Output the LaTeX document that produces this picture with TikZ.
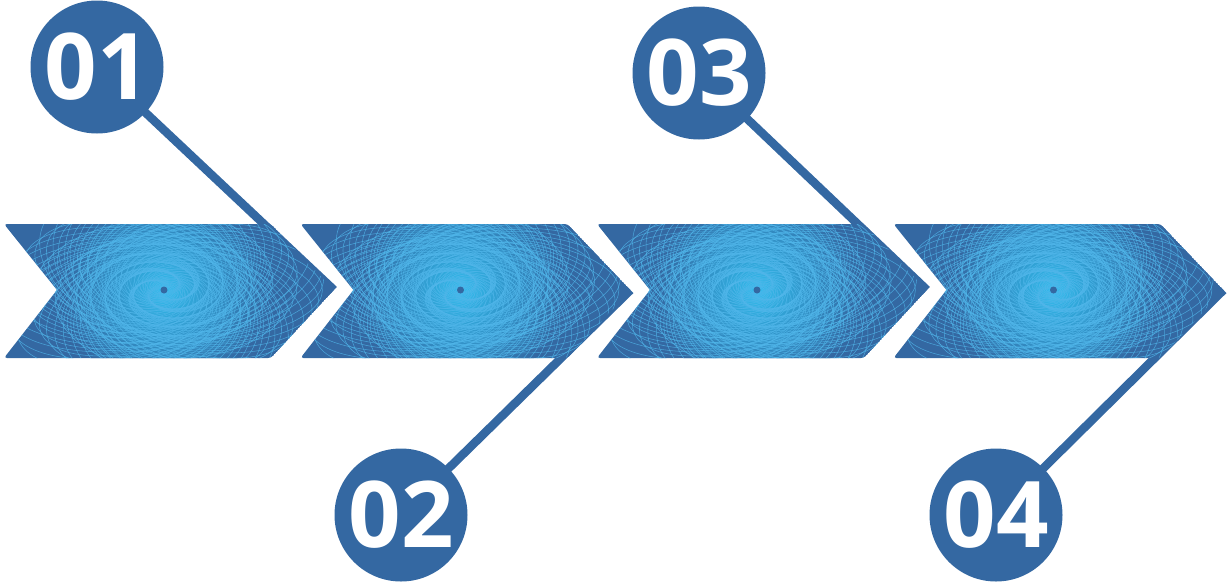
\documentclass[tikz,border=0pt]{standalone}
\usepackage{fontspec}
\newfontfamily\numfont{Open Sans}
\definecolor{cblue}{RGB}{52,104,162}
\definecolor{lblue}{RGB}{80,182,234}
\definecolor{glow}{RGB}{48,190,238}
\tikzset{
  conn/.style={draw=cblue, line width=8.5pt},
  numcirc/.style={circle, fill=cblue, minimum size=133pt, inner sep=0pt,
     text=white, font=\numfont\bfseries\fontsize{92}{92}\selectfont},
  spir/.style={draw=lblue, line width=0.55pt, opacity=0.75},
}
\newcommand{\chevpath}[1]{(#1+4,224) -- (#1+271,224) -- (#1+334,290) -- (#1+271,358) -- (#1+4,358) -- (#1+57,290) -- cycle}
\newcommand{\mychev}[2]{%
  \begin{scope}
    \path[clip, rounded corners=3pt] \chevpath{#1};
    \fill[cblue] \chevpath{#1};
    \shade[inner color=glow, outer color=cblue] (#1+164,290) circle [radius=100];
    \begin{scope}[shift={(#1+164,290)}, xscale=1.6]
      \foreach \i in {1,...,64} {
        \draw[spir] (0,0) ellipse [x radius={3+1.6*\i}, y radius={0.55*(3+1.6*\i)}, rotate={9*\i}];
        \draw[spir] (0,0) ellipse [x radius={3+1.6*\i}, y radius={0.55*(3+1.6*\i)}, rotate={9*\i+90}];
      }
    \end{scope}
    \fill[cblue] (#1+164,290) circle [radius=3.5];
  \end{scope}
  \coordinate (#2) at (#1+334,290);
}
\begin{document}
\begin{tikzpicture}[x=1pt, y=-1pt]
\useasboundingbox (0,0) rectangle (1229,582);
% circle centres
\coordinate (p1) at (97,67);
\coordinate (p2) at (401,515);
\coordinate (p3) at (699,73);
\coordinate (p4) at (996,515);
\coordinate (t1) at (334,290);
\coordinate (t2) at (630.5,290);
\coordinate (t3) at (927,290);
\coordinate (t4) at (1223.5,290);
% connectors
\draw[conn] (p1) -- (t1);
\draw[conn] (p2) -- (t2);
\draw[conn] (p3) -- (t3);
\draw[conn] (p4) -- (t4);
% chevrons
\mychev{0}{k1}
\mychev{296.5}{k2}
\mychev{593}{k3}
\mychev{889.5}{k4}
% number circles
\node[numcirc] (n1) at (p1) {01};
\node[numcirc] (n2) at (p2) {02};
\node[numcirc] (n3) at (p3) {03};
\node[numcirc] (n4) at (p4) {04};
\end{tikzpicture}
\end{document}
